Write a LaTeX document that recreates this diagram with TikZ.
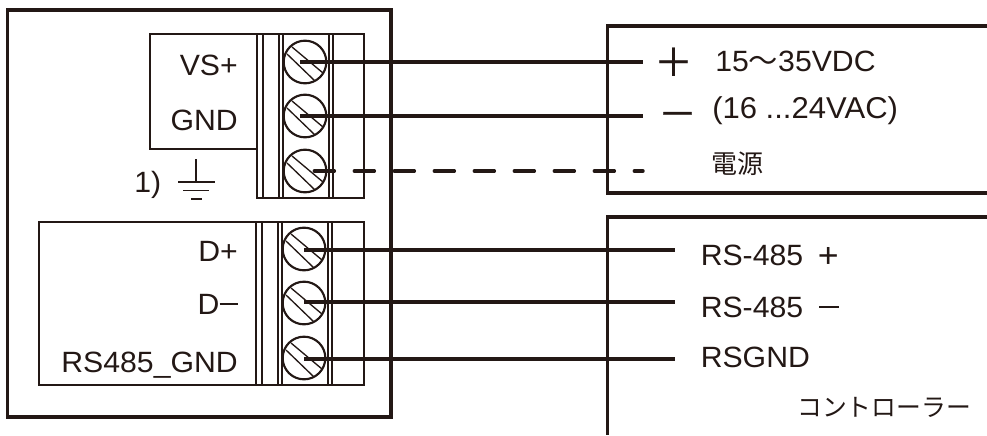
\documentclass[tikz,border=0pt]{standalone}
\usepackage{fontspec}
\setmainfont[FakeStretch=1.03]{Liberation Sans}
\newfontfamily\cjk{Noto Sans CJK JP}
\newfontfamily\signfont[FakeBold=0.5]{Noto Sans CJK JP}
\definecolor{ink}{HTML}{231815}
\tikzset{
  heavy/.style={draw=ink,line width=2.7pt,line cap=butt},
  thin box/.style={draw=ink,line width=1.1pt},
  divider/.style={draw=ink,line width=1.1pt},
  wire/.style={draw=ink,line width=2.6pt},
  dashwire/.style={draw=ink,line width=2.6pt,line cap=round,dash pattern=on 15pt off 15pt},
  screw/.style={circle,draw=ink,line width=1.6pt,minimum size=32pt,inner sep=0pt},
  slot/.style={draw=ink,line width=1pt},
  lbl/.style={text=ink,inner sep=0pt,font=\fontsize{22pt}{26pt}\selectfont},
  jp/.style={text=ink,inner sep=0pt,font=\cjk\fontsize{18.6pt}{23pt}\selectfont},
  sign/.style={text=ink,inner sep=0pt,font=\signfont\fontsize{29pt}{33pt}\selectfont},
}
\begin{document}
\begin{tikzpicture}[x=0.75pt,y=-0.75pt]
\useasboundingbox (0,0) rectangle (987,435);
% outer device box
\draw[heavy] (7.5,10) rectangle (391,417);
% upper terminal section
\draw[thin box] (150,34) rectangle (257,149);
\draw[thin box] (257,34) rectangle (364,198);
\foreach \x in {263,279,283,329,333} \draw[divider] (\x,34) -- (\x,198);
% lower terminal section
\draw[thin box] (39,222) rectangle (256,385);
\draw[thin box] (256,222) rectangle (364,385);
\draw[draw=ink,line width=1.8pt] (256,222) -- (256,385);
\foreach \x in {262,278,282,328,332} \draw[divider] (\x,222) -- (\x,385);
% screws
\node[screw] (s1) at (305,62) {};
\node[screw] (s2) at (305,116) {};
\node[screw] (s3) at (305,171) {};
\node[screw] (s4) at (304,249) {};
\node[screw] (s5) at (304,303) {};
\node[screw] (s6) at (304,358) {};
\foreach \s in {s1,s2,s3,s4,s5,s6} {
  \draw[slot] ([shift={(-13,-15)}]\s.center) -- ([shift={(18,11)}]\s.center);
  \draw[slot] ([shift={(-18,-8)}]\s.center) -- ([shift={(10,19)}]\s.center);
}
% external boxes
\draw[heavy] (987,26) -- (607.5,26) -- (607.5,193) -- (987,193);
\draw[heavy] (987,217) -- (607.5,217) -- (607.5,435);
% wire ends
\coordinate (e1) at (643,62);
\coordinate (e2) at (643,116);
\coordinate (e3) at (643,171);
\coordinate (e4) at (675,250);
\coordinate (e5) at (675,302);
\coordinate (e6) at (675,359);
\draw[wire] ([xshift=-3.5pt]s1.center) -- (e1);
\draw[wire] ([xshift=-3.5pt]s2.center) -- (e2);
\draw[dashwire] ([xshift=7pt]s3.center) -- (e3);
\draw[wire] (s4.center |- e4) -- (e4);
\draw[wire] (s5.center |- e5) -- (e5);
\draw[wire] (s6.center |- e6) -- (e6);
% ground symbol
\coordinate (g0) at (196,159);
\coordinate (g1) at (196,182);
\draw[draw=ink,line width=1.2pt] (g0) -- (g1);
\draw[draw=ink,line width=1.2pt] (178,182) -- (215,182);
\draw[draw=ink,line width=1.2pt] (183,190.5) -- (209,190.5);
\draw[draw=ink,line width=1.2pt] (191,199) -- (202,199);
% left labels
\node[lbl,anchor=base east] (vs) at (238,75) {VS+};
\node[lbl,anchor=base east] (gnd) at (238,130) {GND};
\node[lbl,anchor=base west] (one) at (134,192) {1)};
\node[lbl,anchor=base east] (dp) at (238,261) {D+};
\node[lbl,anchor=base east] (dm) at (238,314) {D\raisebox{0.31em}{\rule{0.62em}{0.05em}}};
\node[lbl,anchor=base east] (rg) at (238,372) {RS485\_GND};
% right labels
\node[sign] (plus) at (673.5,62) {＋};
\node[sign] (minus) at (677.5,120) {－};
\node[lbl,anchor=base west] (v1) at (715,71) {15{\cjk ～}35VDC};
\node[lbl,anchor=base west,font=\fontsize{22.6pt}{26pt}\selectfont] (v2) at (712,118) {(16 ...24VAC)};
\node[jp,anchor=base west,font=\cjk\fontsize{19.5pt}{23pt}\selectfont] (pw) at (711,173) {電源};
\node[lbl,anchor=base west] (r1) at (700.5,265) {RS-485\hspace{0.5em}\raisebox{-1.5pt}{\fontsize{26pt}{26pt}\selectfont +}};
\node[lbl,anchor=base west] (r2) at (700.5,317) {RS-485\hspace{0.55em}\raisebox{0.31em}{\rule{0.68em}{0.06em}}};
\node[lbl,anchor=base west] (r3) at (700.5,367) {RSGND};
\node[jp,anchor=base west] (ct) at (797,416) {コントローラー};
\end{tikzpicture}
\end{document}
